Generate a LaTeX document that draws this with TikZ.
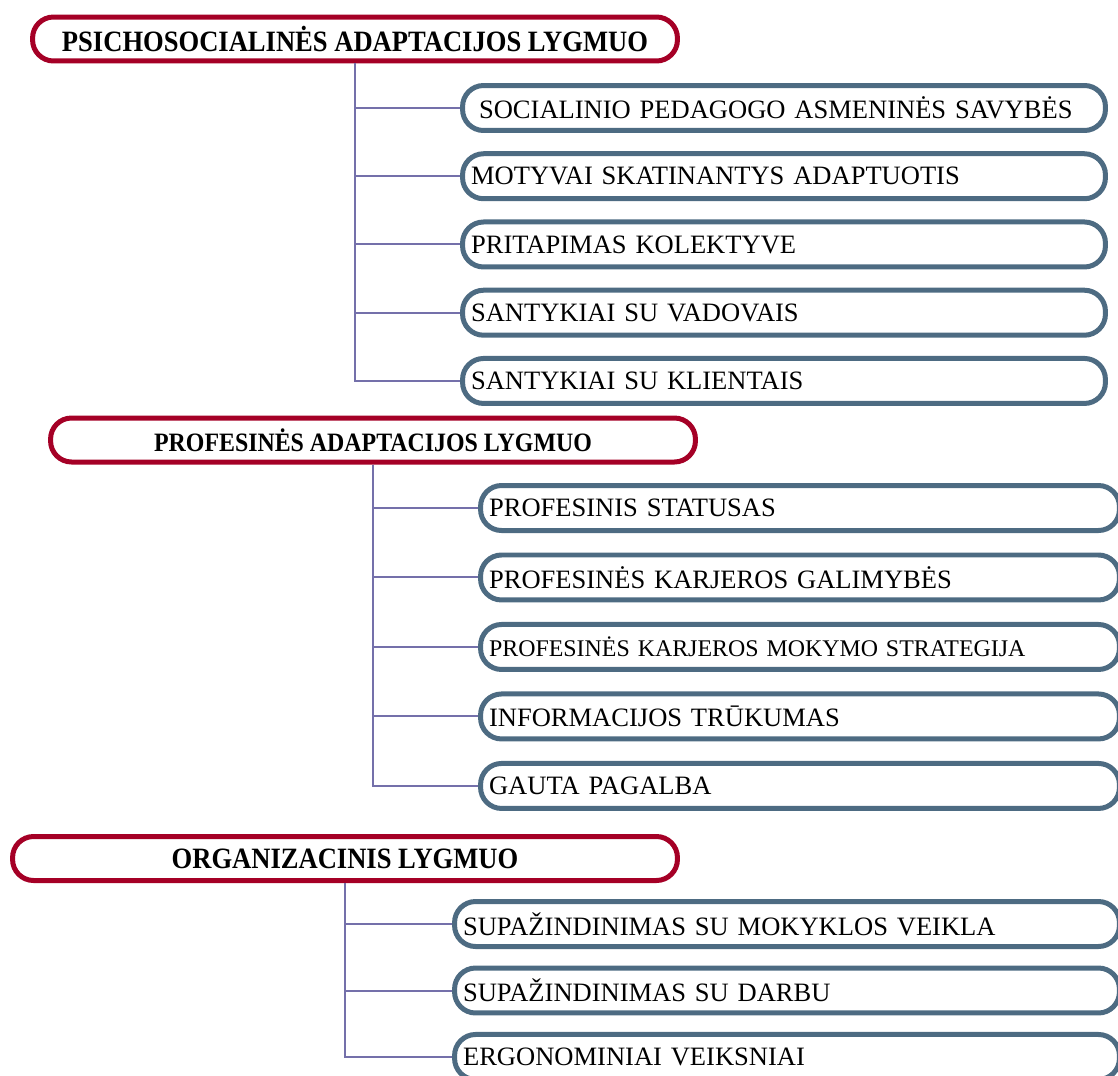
\documentclass[tikz,border=0pt]{standalone}
\usepackage{fontspec}
\setmainfont{Liberation Serif}
\newfontfamily\headfont{Liberation Serif}[FakeStretch=0.9]
\usepackage{xcolor}
\usetikzlibrary{positioning}

\definecolor{tierred}{HTML}{A50026}
\definecolor{factorblue}{HTML}{4D6B82}
\definecolor{linkviolet}{HTML}{7470AA}

\begin{document}
\begin{tikzpicture}[x=0.02cm,y=-0.02cm,on grid,
    tier/.style={draw=tierred,line width=0.1cm,rounded corners=0.42cm,minimum height=0.88cm,inner sep=0pt,
        font=\headfont\bfseries\fontsize{16.8pt}{20pt}\selectfont},
    factor/.style={draw=factorblue,line width=0.1cm,rounded corners=0.42cm,minimum height=0.9cm,
        inner xsep=0.17cm,inner ysep=0pt,text width=#1,align=left,font=\fontsize{15.1pt}{18pt}\selectfont},
    link/.style={draw=linkviolet,line width=0.04cm}]

    \useasboundingbox (0,0) rectangle (1118,1075);

    % psichosocialinis lygmuo
    \node[tier,minimum width=12.9cm] (psi) at (355,39) {PSICHOSOCIALINĖS ADAPTACIJOS LYGMUO};
    \node[factor=12.52cm] (psi_1) at (784,108) {\hspace*{0.16cm}SOCIALINIO PEDAGOGO ASMENINĖS SAVYBĖS};
    \node[factor=12.52cm] (psi_2) [below=1.365cm of psi_1] {MOTYVAI SKATINANTYS ADAPTUOTIS};
    \node[factor=12.52cm] (psi_3) [below=1.365cm of psi_2] {PRITAPIMAS KOLEKTYVE};
    \node[factor=12.52cm] (psi_4) [below=1.365cm of psi_3] {SANTYKIAI SU VADOVAIS};
    \node[factor=12.52cm] (psi_5) [below=1.365cm of psi_4] {SANTYKIAI SU KLIENTAIS};

    % profesinis lygmuo
    \node[tier,minimum width=12.9cm,font=\headfont\bfseries\fontsize{15.1pt}{18pt}\selectfont] (prof) at (373,440) {PROFESINĖS ADAPTACIJOS LYGMUO};
    \node[factor=12.44cm] (prof_1) at (800,508) {PROFESINIS STATUSAS};
    \node[factor=12.44cm] (prof_2) [below=1.39cm of prof_1] {PROFESINĖS KARJEROS GALIMYBĖS};
    \node[factor=12.44cm,font=\fontsize{13.6pt}{16pt}\selectfont] (prof_3) [below=1.39cm of prof_2] {PROFESINĖS KARJEROS MOKYMO STRATEGIJA};
    \node[factor=12.44cm] (prof_4) [below=1.39cm of prof_3] {INFORMACIJOS TRŪKUMAS};
    \node[factor=12.44cm] (prof_5) [below=1.39cm of prof_4] {GAUTA PAGALBA};

    % organizacinis lygmuo
    \node[tier,minimum width=13.3cm] (org) at (345,858.5) {ORGANIZACINIS LYGMUO};
    \node[factor=12.96cm] (org_1) at (787,924) {SUPAŽINDINIMAS SU MOKYKLOS VEIKLA};
    \node[factor=12.96cm] (org_2) [below=1.33cm of org_1] {SUPAŽINDINIMAS SU DARBU};
    \node[factor=12.96cm] (org_3) [below=1.33cm of org_2] {ERGONOMINIAI VEIKSNIAI};

    \foreach \i in {1,...,5} {
        \draw[link] (psi) |- (psi_\i);
        \draw[link] (prof) |- (prof_\i);
    }
    \foreach \i in {1,2,3}
        \draw[link] (org) |- (org_\i);
\end{tikzpicture}
\end{document}
